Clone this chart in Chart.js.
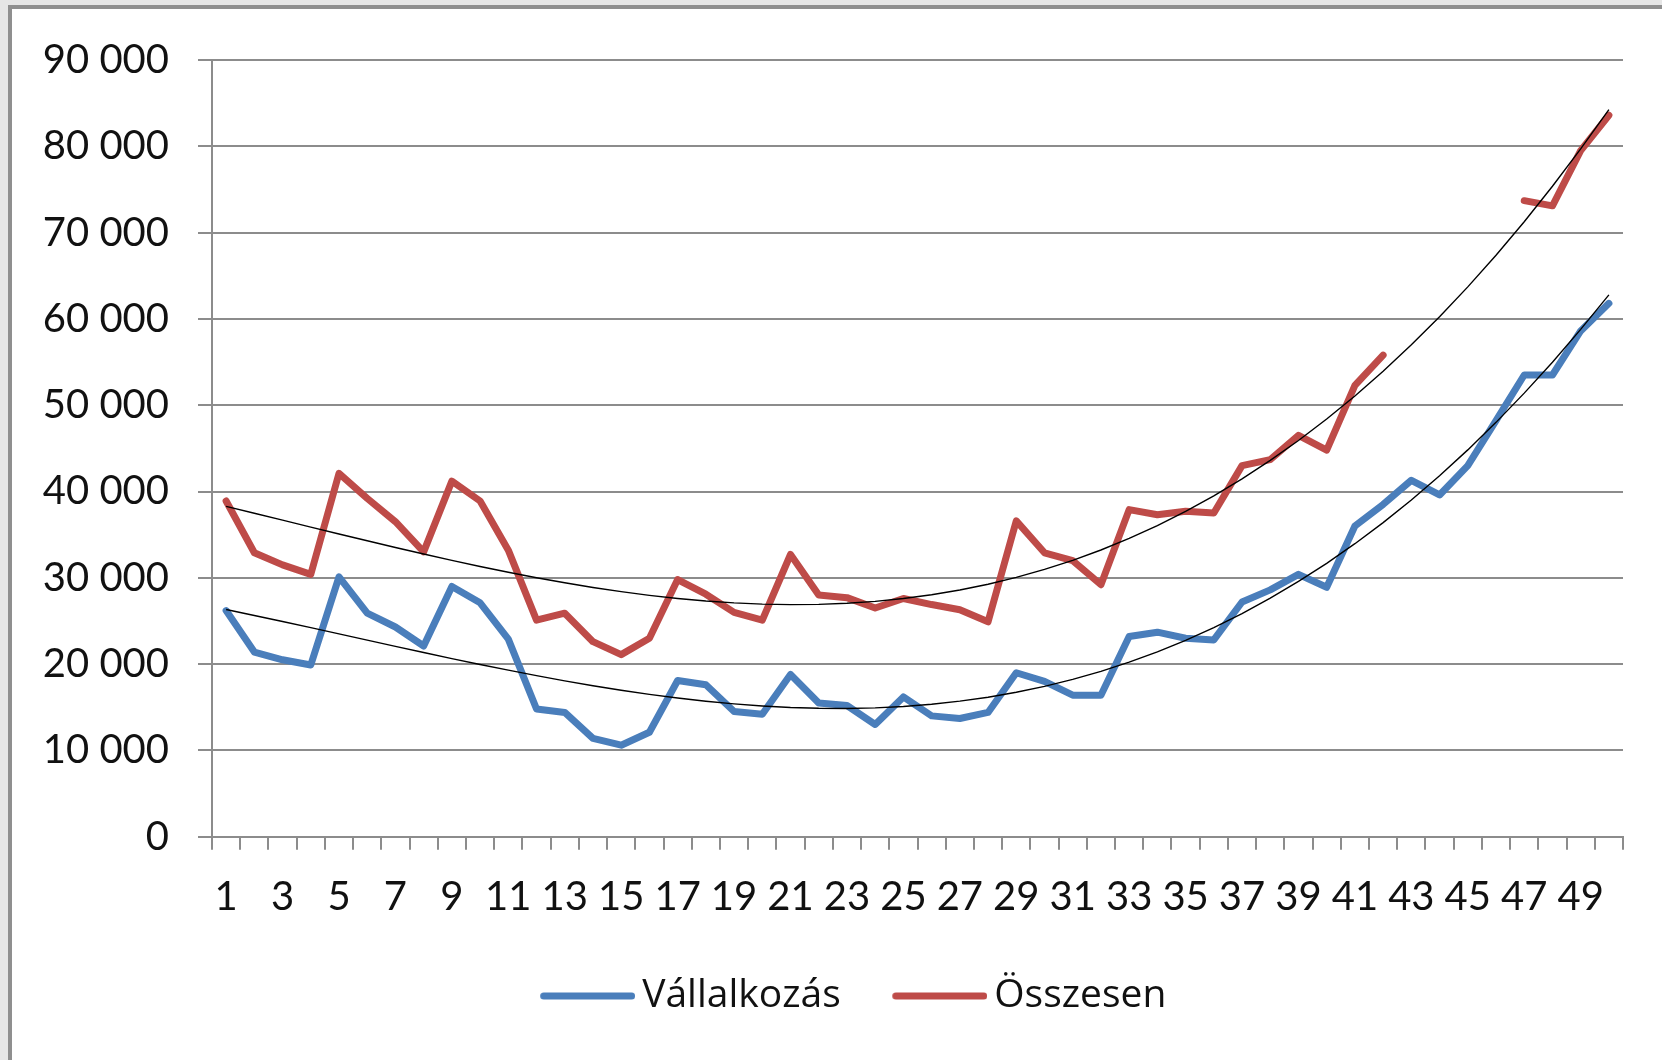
<!DOCTYPE html>
<html><head><meta charset="utf-8">
<script src="https://cdn.jsdelivr.net/npm/chart.js@4.4.0/dist/chart.umd.min.js"></script>
<style>
html,body{margin:0;padding:0;background:#e6e6e6;width:1662px;height:1060px;overflow:hidden}
#frame{position:absolute;left:8px;top:5px;width:1700px;height:1100px;background:#fff;border-left:4px solid #8f8f8f;border-top:4px solid #8f8f8f}
#wrap{position:absolute;left:0;top:0;width:1662px;height:1060px}
</style></head><body>
<div id="frame"></div>
<div id="wrap"><canvas id="c" width="1662" height="1060"></canvas></div>
<script>
const categories = [1,2,3,4,5,6,7,8,9,10,11,12,13,14,15,16,17,18,19,20,21,22,23,24,25,26,27,28,29,30,31,32,33,34,35,36,37,38,39,40,41,42,43,44,45,46,47,48,49,50];
const vallalkozas = [26200,21400,20500,19900,30100,25900,24300,22100,29000,27100,
  22900,14800,14400,11400,10600,12100,18100,17600,14500,14200,
  18800,15500,15200,13000,16200,14000,13700,14400,19000,18000,
  16400,16400,23200,23700,23000,22800,27200,28600,30400,28900,
  36000,38500,41300,39600,43000,48200,53500,53500,58600,61800];
const osszesen = [38900,32900,31500,30400,42100,39200,36500,33000,41200,38900,
  33200,25100,25900,22600,21100,23000,29800,28100,26000,25100,
  32700,28000,27700,26500,27600,26900,26300,24900,36600,32900,
  32000,29200,37900,37300,37700,37500,43000,43700,46500,44800,
  52300,55800,null,null,null,null,73700,73100,79500,83600];
const yTicks = [0,10000,20000,30000,40000,50000,60000,70000,80000,90000];
const seriesNames = ['Vállalkozás','Összesen'];
const seriesColors = ['#4a7ebb','#be4b48'];
const trendOrder = 3;

// Polynomial least-squares trendline (spreadsheet-style), fitted on the non-empty points
function polyTrend(xs, ys, order){
  const m = order + 1;
  const A = Array.from({length:m},()=>new Array(m+1).fill(0));
  xs.forEach((x,i)=>{
    const y = ys[i]; if(y===null) return;
    for(let r=0;r<m;r++){
      for(let c=0;c<m;c++) A[r][c] += Math.pow(x, r+c);
      A[r][m] += Math.pow(x, r)*y;
    }
  });
  for(let c=0;c<m;c++){
    let p=c; for(let r=c+1;r<m;r++) if(Math.abs(A[r][c])>Math.abs(A[p][c])) p=r;
    [A[c],A[p]]=[A[p],A[c]];
    for(let r=0;r<m;r++){ if(r===c) continue; const f=A[r][c]/A[c][c]; for(let k=c;k<=m;k++) A[r][k]-=f*A[c][k]; }
  }
  const coef = A.map((row,i)=>row[m]/row[i]);
  return xs.map(x=>coef.reduce((s,a,k)=>s+a*Math.pow(x,k),0));
}

const FONT = {family:"Lato, 'Open Sans', sans-serif", size:40};
const LFONT = {family:"'Open Sans', Lato, sans-serif", size:39};
const GRID = '#8c8c8c';
const fmt = v => String(v).replace(/\B(?=(\d{3})+(?!\d))/g,' ');

// legend line sample images
const LBW = 124;
function sampleImg(color){
  const cv = document.createElement('canvas');
  cv.width = LBW + 25; cv.height = 12;
  const g = cv.getContext('2d');
  g.strokeStyle = color; g.lineWidth = 7; g.lineCap = 'round';
  g.beginPath(); g.moveTo(cv.width-95+3.5, 6); g.lineTo(cv.width-3.5, 6); g.stroke();
  return cv;
}
const samples = seriesColors.map(sampleImg);

new Chart(document.getElementById('c'), {
  type:'line',
  data:{
    labels: categories,
    datasets:[
      {label:seriesNames[0], data:vallalkozas, borderColor:seriesColors[0], backgroundColor:seriesColors[0], borderWidth:7, pointRadius:0, borderCapStyle:'round', borderJoinStyle:'round', order:1},
      {label:seriesNames[1], data:osszesen, borderColor:seriesColors[1], backgroundColor:seriesColors[1], borderWidth:7, pointRadius:0, borderCapStyle:'round', borderJoinStyle:'round', order:1},
      {label:'trend1', data:polyTrend(categories, vallalkozas, trendOrder), borderColor:'#000', borderWidth:1.4, pointRadius:0, order:0},
      {label:'trend2', data:polyTrend(categories, osszesen, trendOrder), borderColor:'#000', borderWidth:1.4, pointRadius:0, order:0}
    ]
  },
  options:{
    responsive:false, animation:false,
    layout:{padding:{left:42,top:60,right:39,bottom:34.5}},
    plugins:{
      tooltip:{enabled:false},
      legend:{
        position:'bottom',
        labels:{
          font:LFONT, color:'#111', usePointStyle:true, pointStyleWidth:LBW, boxHeight:7, padding:10,
          generateLabels(chart){
            const items = Chart.defaults.plugins.legend.labels.generateLabels(chart);
            return items.filter(it=>it.datasetIndex<2).map(it=>Object.assign(it,{pointStyle:samples[it.datasetIndex], lineWidth:0}));
          }
        }
      }
    },
    scales:{
      x:{
        offset:true,
        afterFit(s){ s.height = 129.8; },
        grid:{offset:true, drawOnChartArea:false, tickLength:13, color:GRID, lineWidth:2},
        border:{color:GRID, width:2},
        ticks:{autoSkip:false, maxRotation:0, minRotation:0, font:FONT, color:'#111', padding:23,
          callback:(v,i)=> i%2===0 ? String(categories[i]) : ''}
      },
      y:{
        min:0, max:90000,
        afterFit(s){ s.width = 170; },
        afterBuildTicks(s){ s.ticks = yTicks.map(v=>({value:v})); },
        grid:{color:GRID, lineWidth:2, tickLength:14},
        border:{color:GRID, width:2},
        ticks:{font:FONT, color:'#111', padding:29, callback:v=>fmt(v)}
      }
    }
  }
});
</script>
</body></html>
